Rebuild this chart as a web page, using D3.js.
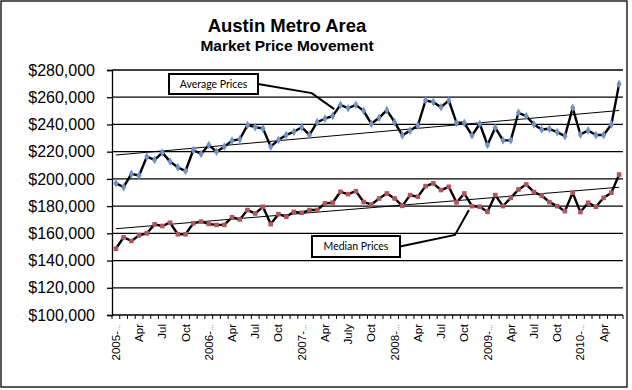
<!DOCTYPE html>
<html><head><meta charset="utf-8">
<script src="https://cdn.jsdelivr.net/npm/d3@7"></script>
<style>html,body{margin:0;padding:0;background:#fff;}svg{display:block;}</style>
</head><body>
<svg id="chart" width="632" height="390"></svg>
<script>
// ---- data ----
const months = d3.range(66).map(i => { const y = 2005 + Math.floor(i / 12), m = i % 12 + 1; return y + "-" + String(m).padStart(2, "0"); });
const tickLabels = ["2005-","Apr","Jul","Oct","2006-","Apr","Jul","Oct","2007-","Apr","July","Oct","2008-","Apr","Jul","Oct","2009-","Apr","Jul","Oct","2010-","Apr"];
const truncated = [true,false,false,false,true,false,false,false,true,false,false,false,true,false,false,false,true,false,false,false,true,false];
const avgPrices = [196800,193900,203700,202500,216300,213900,219300,212700,208500,205800,221200,218300,224900,220000,223700,228100,229100,239500,238000,237000,223700,228600,232300,234600,238000,232300,241700,244200,246200,254400,251900,254400,250000,240500,244900,250500,241700,231900,235500,239200,257600,256400,252700,257600,241200,241200,231900,240500,224900,237600,228300,228300,248600,246100,240000,236300,236800,234400,231400,252200,232600,235600,232200,232200,240000,269800];
const medianPrices = [148700,157100,154400,158500,160000,166600,165400,167800,159300,159300,167400,168600,166900,166200,166200,171800,170200,177100,174600,179500,166800,174100,172200,175800,175100,177100,177100,182000,182500,190500,188800,191000,183000,181200,185600,189300,185600,180200,188100,186900,194700,196700,191800,194200,182700,189300,180000,179500,175800,188100,180000,186100,192200,195900,190300,187800,182900,180000,176300,189800,175600,182500,179500,186100,189800,203200];
const yTicks = [100000,120000,140000,160000,180000,200000,220000,240000,260000,280000];
const titleText = "Austin Metro Area";
const subtitleText = "Market Price Movement";
// callouts: [label, elbow month, elbow value, end month, end value]
const avgCallout = ["Average Prices", 25.3, 263000, 28.2, 251300];
const medCallout = ["Median Prices", 43.8, 158800, 45.6, 177100];

// ---- chart ----
const svg = d3.select("#chart");
const L = 112, R = 623, T = 70, B = 315;
const x = d3.scaleBand().domain(months).range([L, R]).paddingInner(0).paddingOuter(0);
const xm = d3.scaleLinear().domain([-0.5, months.length - 0.5]).range([L, R]);
const y = d3.scaleLinear().domain([100000, 280000]).range([B, T]);
const font = "'Liberation Sans', Arial, sans-serif";

svg.append("rect").attr("x", 1).attr("y", 1).attr("width", 626).attr("height", 386)
  .attr("fill", "#fff").attr("stroke", "#000").attr("stroke-width", 1.3);

svg.append("text").attr("x", 287).attr("y", 32).attr("text-anchor", "middle")
  .attr("font-family", font).attr("font-weight", "bold").attr("font-size", 18.5).text(titleText);
svg.append("text").attr("x", 287).attr("y", 51).attr("text-anchor", "middle")
  .attr("font-family", font).attr("font-weight", "bold").attr("font-size", 15.5).text(subtitleText);

// gridlines
svg.append("g").selectAll("line").data(yTicks.slice(1)).join("line")
  .attr("x1", L).attr("x2", R).attr("y1", d => y(d)).attr("y2", d => y(d))
  .attr("stroke", "#000").attr("stroke-width", 1.3);

// y axis
const yAxis = svg.append("g").attr("transform", `translate(${L},0)`)
  .call(d3.axisLeft(y).tickValues(yTicks).tickSize(5).tickPadding(12).tickFormat(d => "$" + d3.format(",")(d)));
yAxis.select(".domain").attr("stroke", "#000").attr("stroke-width", 1.3);
yAxis.selectAll(".tick line").attr("stroke", "#000").attr("stroke-width", 1.3);
yAxis.selectAll("text").attr("font-family", font).attr("font-size", 16).attr("fill", "#000");

// x axis
const xg = svg.append("g");
xg.append("line").attr("x1", L).attr("x2", R).attr("y1", B).attr("y2", B).attr("stroke", "#000").attr("stroke-width", 1.3);
xg.selectAll("line.tk").data(d3.range(months.length + 1)).join("line").attr("class", "tk")
  .attr("x1", i => xm(i - 0.5)).attr("x2", i => xm(i - 0.5)).attr("y1", B).attr("y2", B + 4)
  .attr("stroke", "#000").attr("stroke-width", 1);
const labs = xg.selectAll("text").data(tickLabels).join("text")
  .attr("transform", (d, i) => `translate(${x(months[i * 3]) + x.bandwidth() / 2},${B + 9}) rotate(-90)`)
  .attr("text-anchor", "end").attr("dy", "0.35em")
  .attr("font-family", font).attr("font-size", 11.5).attr("fill", "#000");
labs.each(function(d, i) {
  const t = d3.select(this);
  t.append("tspan").text(d);
  if (truncated[i]) t.append("tspan").attr("font-size", 7).text("…");
});

// trendlines (least squares)
function trend(vals) {
  const n = vals.length, xs = d3.range(n);
  const mx = d3.mean(xs), my = d3.mean(vals);
  const b = d3.sum(xs, i => (i - mx) * (vals[i] - my)) / d3.sum(xs, i => (i - mx) * (i - mx));
  const a = my - b * mx;
  return [[0, a], [n - 1, a + b * (n - 1)]];
}
const line = d3.line().x(d => xm(d[0])).y(d => y(d[1]));
[avgPrices, medianPrices].forEach(vals => {
  svg.append("path").attr("d", line(trend(vals))).attr("fill", "none").attr("stroke", "#000").attr("stroke-width", 1);
});

// series
const sLine = d3.line().x((d, i) => xm(i)).y(d => y(d));
svg.append("path").attr("d", sLine(avgPrices)).attr("fill", "none").attr("stroke", "#000").attr("stroke-width", 2.4).attr("stroke-linejoin", "round");
svg.append("path").attr("d", sLine(medianPrices)).attr("fill", "none").attr("stroke", "#000").attr("stroke-width", 2.4).attr("stroke-linejoin", "round");
svg.append("g").selectAll("path").data(avgPrices).join("path")
  .attr("d", d3.symbol(d3.symbolDiamond, 22)())
  .attr("transform", (d, i) => `translate(${xm(i)},${y(d)})`).attr("fill", "#7093c6");
svg.append("g").selectAll("rect").data(medianPrices).join("rect")
  .attr("x", (d, i) => xm(i) - 2.3).attr("y", d => y(d) - 2.3).attr("width", 4.6).attr("height", 4.6)
  .attr("fill", "#b2565c");

// callouts
function callout(c, bx, by, bw, bh) {
  const pts = [[bx + bw, by + bh / 2], [xm(c[1]), y(c[2])], [xm(c[3]), y(c[4])]];
  svg.append("path").attr("d", d3.line()(pts)).attr("fill", "none").attr("stroke", "#000").attr("stroke-width", 2);
  svg.append("rect").attr("x", bx).attr("y", by).attr("width", bw).attr("height", bh)
    .attr("fill", "#fff").attr("stroke", "#000").attr("stroke-width", 2);
  svg.append("text").attr("x", bx + bw / 2).attr("y", by + bh / 2).attr("dy", "0.35em").attr("text-anchor", "middle")
    .attr("font-family", "Lato, 'Open Sans', sans-serif").attr("font-size", 10.5).text(c[0]);
}
callout(avgCallout, 169, 74, 89, 20);
callout(medCallout, 312, 236, 88, 21);
</script>
</body></html>
